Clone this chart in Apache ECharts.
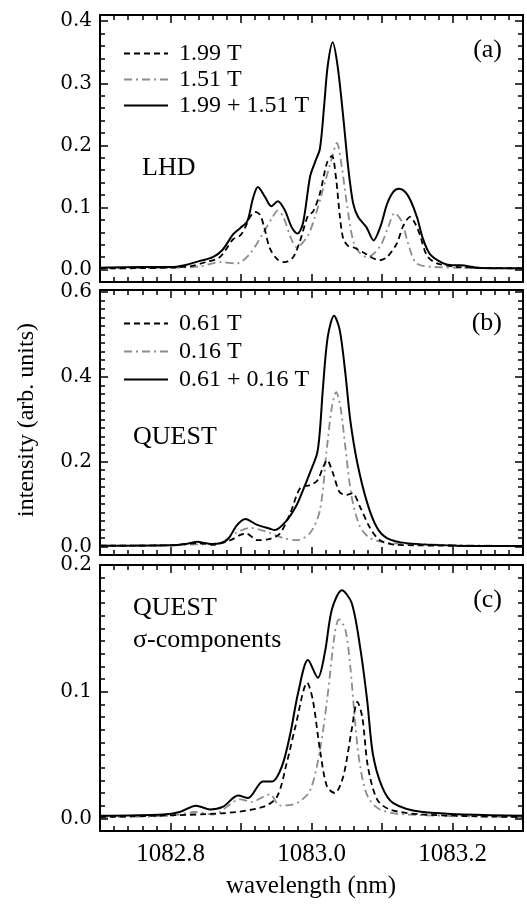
<!DOCTYPE html>
<html>
<head>
<meta charset="utf-8">
<script src="https://cdn.jsdelivr.net/npm/echarts@6/dist/echarts.min.js"></script>
<style>
html, body { margin: 0; padding: 0; background: #fff; }
#chart { width: 527px; height: 905px; }
</style>
</head>
<body>
<div id="chart"></div>
<script>
// tick labels
const xTickLabels = ['1082.8', '1083.0', '1083.2'];
const yTicksA = ['0.0', '0.1', '0.2', '0.3', '0.4'];
const yTicksB = ['0.0', '0.2', '0.4', '0.6'];
const yTicksC = ['0.0', '0.1', '0.2'];

const legendA = ['1.99 T', '1.51 T', '1.99 + 1.51 T'];
const legendB = ['0.61 T', '0.16 T', '0.61 + 0.16 T'];

// (a) LHD  [wavelength nm, intensity]
const lhd199 = [[1082.700,0.002],[1082.800,0.003],[1082.830,0.006],[1082.850,0.012],[1082.870,0.020],[1082.889,0.049],[1082.899,0.055],[1082.906,0.068],[1082.913,0.085],[1082.920,0.093],[1082.927,0.088],[1082.933,0.068],[1082.941,0.034],[1082.952,0.016],[1082.962,0.012],[1082.974,0.020],[1082.984,0.047],[1082.995,0.087],[1083.002,0.093],[1083.012,0.123],[1083.022,0.172],[1083.029,0.183],[1083.035,0.145],[1083.040,0.088],[1083.045,0.050],[1083.052,0.038],[1083.059,0.036],[1083.076,0.026],[1083.086,0.019],[1083.097,0.015],[1083.107,0.020],[1083.121,0.042],[1083.130,0.070],[1083.140,0.085],[1083.148,0.072],[1083.154,0.055],[1083.164,0.022],[1083.178,0.010],[1083.211,0.004],[1083.300,0.002]];
const lhd151 = [[1082.700,0.002],[1082.800,0.003],[1082.842,0.005],[1082.870,0.012],[1082.894,0.010],[1082.913,0.026],[1082.931,0.058],[1082.945,0.085],[1082.952,0.095],[1082.960,0.085],[1082.970,0.053],[1082.979,0.036],[1082.994,0.053],[1083.005,0.085],[1083.016,0.128],[1083.029,0.180],[1083.036,0.204],[1083.043,0.165],[1083.050,0.107],[1083.059,0.047],[1083.069,0.026],[1083.079,0.020],[1083.097,0.037],[1083.109,0.069],[1083.118,0.091],[1083.128,0.077],[1083.137,0.042],[1083.147,0.012],[1083.158,0.006],[1083.200,0.003],[1083.300,0.002]];
const lhdSum = [[1082.700,0.003],[1082.760,0.004],[1082.800,0.004],[1082.820,0.007],[1082.842,0.014],[1082.860,0.020],[1082.874,0.032],[1082.889,0.057],[1082.899,0.067],[1082.909,0.078],[1082.917,0.115],[1082.924,0.133],[1082.934,0.117],[1082.943,0.102],[1082.952,0.110],[1082.962,0.096],[1082.972,0.068],[1082.980,0.058],[1082.988,0.075],[1082.998,0.150],[1083.005,0.173],[1083.012,0.195],[1083.018,0.265],[1083.023,0.328],[1083.030,0.366],[1083.037,0.328],[1083.045,0.246],[1083.052,0.165],[1083.059,0.107],[1083.066,0.085],[1083.078,0.068],[1083.088,0.047],[1083.098,0.070],[1083.107,0.105],[1083.116,0.125],[1083.124,0.130],[1083.133,0.125],[1083.141,0.110],[1083.150,0.083],[1083.158,0.050],[1083.168,0.025],[1083.187,0.010],[1083.200,0.007],[1083.212,0.007],[1083.235,0.003],[1083.300,0.002]];

// (b) QUEST
const quest061 = [[1082.700,0.002],[1082.800,0.003],[1082.838,0.008],[1082.860,0.004],[1082.885,0.015],[1082.900,0.028],[1082.908,0.030],[1082.923,0.015],[1082.941,0.018],[1082.955,0.030],[1082.970,0.079],[1082.984,0.138],[1082.998,0.145],[1083.008,0.155],[1083.016,0.185],[1083.022,0.204],[1083.030,0.175],[1083.040,0.128],[1083.050,0.122],[1083.058,0.126],[1083.069,0.093],[1083.083,0.044],[1083.097,0.015],[1083.121,0.004],[1083.300,0.001]];
const quest016 = [[1082.700,0.002],[1082.800,0.003],[1082.838,0.005],[1082.870,0.008],[1082.890,0.030],[1082.913,0.044],[1082.930,0.038],[1082.941,0.032],[1082.960,0.020],[1082.979,0.015],[1082.998,0.032],[1083.012,0.086],[1083.022,0.235],[1083.029,0.330],[1083.035,0.364],[1083.041,0.330],[1083.048,0.235],[1083.057,0.117],[1083.069,0.046],[1083.083,0.020],[1083.111,0.008],[1083.300,0.001]];
const questSum = [[1082.700,0.002],[1082.800,0.003],[1082.825,0.007],[1082.838,0.011],[1082.850,0.008],[1082.860,0.006],[1082.880,0.015],[1082.894,0.050],[1082.906,0.065],[1082.923,0.051],[1082.941,0.042],[1082.948,0.039],[1082.965,0.062],[1082.979,0.098],[1082.988,0.133],[1082.998,0.175],[1083.008,0.220],[1083.012,0.275],[1083.016,0.369],[1083.023,0.494],[1083.032,0.544],[1083.040,0.511],[1083.048,0.409],[1083.055,0.298],[1083.065,0.197],[1083.079,0.103],[1083.093,0.044],[1083.107,0.020],[1083.135,0.008],[1083.206,0.002],[1083.300,0.001]];

// (c) QUEST sigma-components
const sigma061 = [[1082.700,0.001],[1082.874,0.004],[1082.931,0.009],[1082.951,0.017],[1082.965,0.044],[1082.977,0.072],[1082.994,0.107],[1083.002,0.093],[1083.012,0.054],[1083.022,0.025],[1083.033,0.020],[1083.045,0.033],[1083.057,0.070],[1083.065,0.092],[1083.072,0.080],[1083.080,0.041],[1083.093,0.015],[1083.111,0.007],[1083.158,0.003],[1083.300,0.001]];
const sigma016 = [[1082.700,0.001],[1082.800,0.002],[1082.836,0.005],[1082.860,0.003],[1082.899,0.015],[1082.915,0.013],[1082.941,0.019],[1082.955,0.010],[1082.979,0.012],[1082.998,0.022],[1083.012,0.054],[1083.022,0.093],[1083.033,0.146],[1083.039,0.157],[1083.048,0.149],[1083.055,0.120],[1083.062,0.075],[1083.069,0.041],[1083.080,0.017],[1083.097,0.007],[1083.135,0.003],[1083.300,0.001]];
const sigmaSum = [[1082.700,0.002],[1082.790,0.003],[1082.813,0.005],[1082.836,0.010],[1082.856,0.007],[1082.874,0.009],[1082.896,0.018],[1082.910,0.016],[1082.931,0.029],[1082.944,0.029],[1082.958,0.041],[1082.970,0.067],[1082.981,0.099],[1082.995,0.125],[1083.009,0.111],[1083.019,0.131],[1083.029,0.165],[1083.043,0.180],[1083.057,0.170],[1083.069,0.135],[1083.079,0.093],[1083.087,0.051],[1083.100,0.025],[1083.116,0.012],[1083.158,0.005],[1083.300,0.002]];

const serif = "Liberation Serif, serif";
const BLACK = '#000';
const GRAY = '#8c8c8c';

const panels = [
  { top: 15,  height: 267, min: -0.02, max: 0.41,  split: 4, minor: 0.02, ticks: yTicksA },
  { top: 290, height: 265, min: -0.02, max: 0.605, split: 3, minor: 0.02, ticks: yTicksB },
  { top: 565, height: 266, min: -0.01, max: 0.2,   split: 2, minor: 0.01, ticks: yTicksC }
];

// only print labels that are in the given list (and sit exactly on the tick)
function pick(list) {
  return function (v) {
    try {
      const n = typeof v === 'number' ? v : Number(v);
      const s = n.toFixed(1);
      return (list.includes(s) && Math.abs(n - parseFloat(s)) < 1e-6) ? s : '';
    } catch (e) {
      return '';
    }
  };
}

const grids = [], xAxes = [], yAxes = [];
panels.forEach((p, gi) => {
  grids.push({ left: 100, width: 423, top: p.top, height: p.height });
  ['bottom', 'top'].forEach(pos => {
    const showLab = gi === 2 && pos === 'bottom';
    xAxes.push({
      gridIndex: gi, type: 'value', position: pos,
      min: 1082.7, max: 1083.3, interval: 0.1,
      axisLine: { show: true, onZero: false, lineStyle: { color: BLACK, width: 2 } },
      axisTick: { show: true, inside: true, length: 8, lineStyle: { color: BLACK, width: 1.5 } },
      minorTick: { show: true, splitNumber: 5, length: 5, lineStyle: { color: BLACK, width: 1.5 } },
      splitLine: { show: false },
      axisLabel: { show: showLab, margin: 11, color: BLACK, fontFamily: serif, fontSize: 25, formatter: pick(xTickLabels) }
    });
  });
  ['left', 'right'].forEach(pos => {
    yAxes.push({
      gridIndex: gi, type: 'value', position: pos,
      min: p.min, max: p.max, splitNumber: p.split,
      axisLine: { show: true, onZero: false, lineStyle: { color: BLACK, width: 2 } },
      axisTick: { show: true, inside: true, length: 8, lineStyle: { color: BLACK, width: 1.5 } },
      splitLine: { show: false },
      axisLabel: { show: pos === 'left', margin: 8, color: BLACK, fontFamily: 'DejaVu Serif, serif', fontSize: 20, formatter: pick(p.ticks) }
    });
    yAxes.push({
      gridIndex: gi, type: 'value', position: pos,
      min: p.min, max: p.max, interval: p.minor,
      axisLine: { show: false, onZero: false },
      axisTick: { show: true, inside: true, length: 5, lineStyle: { color: BLACK, width: 1.5 } },
      splitLine: { show: false },
      axisLabel: { show: false }
    });
  });
});

const dashed = { color: BLACK, width: 1.8, type: [6, 4] };
const dashDot = { color: GRAY, width: 1.8, type: [8, 4, 2, 4] };
const solid = { color: BLACK, width: 2 };

function line(name, data, gi, style) {
  return {
    name, type: 'line', data, xAxisIndex: gi * 2, yAxisIndex: gi * 4,
    symbol: 'none', showSymbol: false, smooth: 0.3,
    lineStyle: style, itemStyle: { color: style.color }
  };
}

const series = [
  line(legendA[1], lhd151, 0, dashDot),
  line(legendA[0], lhd199, 0, dashed),
  line(legendA[2], lhdSum, 0, solid),
  line(legendB[1], quest016, 1, dashDot),
  line(legendB[0], quest061, 1, dashed),
  line(legendB[2], questSum, 1, solid),
  line('sigma 0.16 T', sigma016, 2, dashDot),
  line('sigma 0.61 T', sigma061, 2, dashed),
  line('sigma sum', sigmaSum, 2, solid)
];

function legend(names, top, gap) {
  return {
    data: names, orient: 'vertical', left: 118, top, itemWidth: 44, itemHeight: 14, itemGap: gap,
    selectedMode: false,
    itemStyle: { color: 'rgba(0,0,0,0)', borderWidth: 0, opacity: 0 },
    textStyle: { color: BLACK, fontFamily: serif, fontSize: 24, lineHeight: 25, padding: [0, 0, 0, 6] }
  };
}

function label(text, pos, size) {
  return { type: 'text', ...pos, style: { text, fill: BLACK, font: (size || 26) + 'px ' + serif } };
}

const chart = echarts.init(document.getElementById('chart'));
chart.setOption({
  animation: false,
  grid: grids,
  xAxis: xAxes,
  yAxis: yAxes,
  legend: [legend(legendA, 36, 1), legend(legendB, 306, 3)],
  series,
  graphic: [
    label('(a)', { right: 25, top: 37 }),
    label('(b)', { right: 25, top: 310 }),
    label('(c)', { right: 25, top: 587 }),
    label('LHD', { left: 142, top: 155 }),
    label('QUEST', { left: 133, top: 424 }),
    label('QUEST', { left: 133, top: 595 }),
    label('\u03c3-components', { left: 133, top: 627 }),
    label('wavelength (nm)', { left: 226, top: 874 }, 25),
    {
      type: 'text', x: 27, y: 420, rotation: Math.PI / 2,
      style: { text: 'intensity (arb. units)', fill: BLACK, font: '24px ' + serif, align: 'center', verticalAlign: 'middle' }
    }
  ]
});
</script>
</body>
</html>
